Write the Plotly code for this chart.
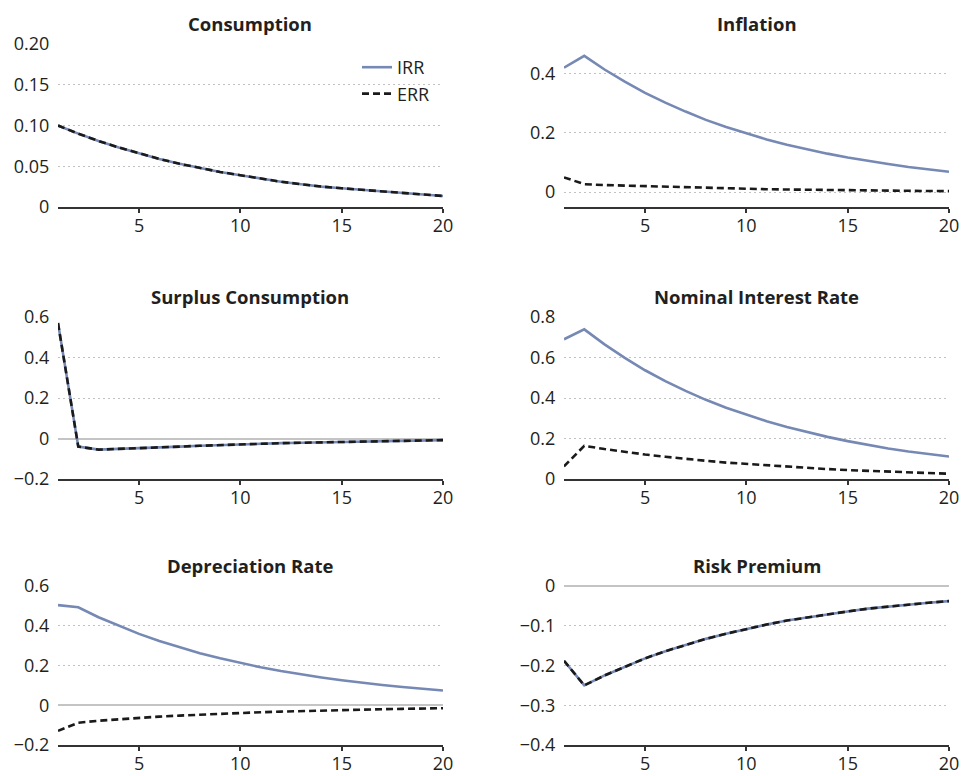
import plotly.graph_objects as go

periods = list(range(1, 21))

consumption_irr = [0.100, 0.090, 0.081, 0.073, 0.066, 0.059, 0.053, 0.048, 0.043, 0.039,
                   0.035, 0.031, 0.028, 0.025, 0.023, 0.021, 0.019, 0.017, 0.015, 0.0135]
consumption_err = [0.100, 0.090, 0.081, 0.073, 0.066, 0.059, 0.053, 0.048, 0.043, 0.039,
                   0.035, 0.031, 0.028, 0.025, 0.023, 0.021, 0.019, 0.017, 0.015, 0.0135]

inflation_irr = [0.420, 0.460, 0.414, 0.373, 0.335, 0.302, 0.272, 0.244, 0.220, 0.198,
                 0.178, 0.160, 0.144, 0.130, 0.117, 0.105, 0.095, 0.085, 0.077, 0.069]
inflation_err = [0.050, 0.027, 0.024, 0.022, 0.020, 0.018, 0.016, 0.014, 0.013, 0.011,
                 0.010, 0.009, 0.008, 0.007, 0.0065, 0.006, 0.005, 0.0045, 0.004, 0.0035]

surplus_irr = [0.570, -0.040, -0.055, -0.052, -0.048, -0.044, -0.040, -0.036, -0.032, -0.029,
               -0.026, -0.023, -0.021, -0.019, -0.017, -0.015, -0.013, -0.011, -0.010, -0.008]
surplus_err = [0.570, -0.040, -0.055, -0.052, -0.048, -0.044, -0.040, -0.036, -0.032, -0.029,
               -0.026, -0.023, -0.021, -0.019, -0.017, -0.015, -0.013, -0.011, -0.010, -0.008]

nominal_irr = [0.690, 0.739, 0.665, 0.598, 0.537, 0.483, 0.435, 0.391, 0.352, 0.317,
               0.285, 0.257, 0.231, 0.208, 0.187, 0.168, 0.151, 0.136, 0.123, 0.111]
nominal_err = [0.062, 0.164, 0.148, 0.134, 0.121, 0.110, 0.099, 0.090, 0.081, 0.074,
               0.067, 0.060, 0.054, 0.049, 0.044, 0.040, 0.036, 0.033, 0.029, 0.026]

depreciation_irr = [0.504, 0.493, 0.443, 0.399, 0.359, 0.323, 0.291, 0.262, 0.236, 0.213,
                    0.191, 0.172, 0.155, 0.140, 0.126, 0.113, 0.102, 0.092, 0.082, 0.074]
depreciation_err = [-0.129, -0.088, -0.078, -0.070, -0.063, -0.057, -0.052, -0.047, -0.043, -0.039,
                    -0.035, -0.032, -0.029, -0.026, -0.024, -0.022, -0.020, -0.018, -0.016, -0.015]

risk_irr = [-0.188, -0.250, -0.225, -0.203, -0.182, -0.164, -0.148, -0.133, -0.120, -0.108,
            -0.097, -0.087, -0.079, -0.071, -0.064, -0.057, -0.052, -0.046, -0.042, -0.038]
risk_err = [-0.188, -0.250, -0.225, -0.203, -0.182, -0.164, -0.148, -0.133, -0.120, -0.108,
            -0.097, -0.087, -0.079, -0.071, -0.064, -0.057, -0.052, -0.046, -0.042, -0.038]

titles = ["Consumption", "Inflation", "Surplus Consumption",
          "Nominal Interest Rate", "Depreciation Rate", "Risk Premium"]
irr_series = [consumption_irr, inflation_irr, surplus_irr, nominal_irr, depreciation_irr, risk_irr]
err_series = [consumption_err, inflation_err, surplus_err, nominal_err, depreciation_err, risk_err]

y_ranges = [[0, 0.2], [-0.05, 0.5], [-0.2, 0.6], [0, 0.8], [-0.2, 0.6], [-0.4, 0]]
y_tickvals = [[0, 0.05, 0.10, 0.15, 0.20], [0, 0.2, 0.4], [-0.2, 0, 0.2, 0.4, 0.6],
              [0, 0.2, 0.4, 0.6, 0.8], [-0.2, 0, 0.2, 0.4, 0.6], [-0.4, -0.3, -0.2, -0.1, 0]]
y_ticktext = [["0", "0.05", "0.10", "0.15", "0.20"], ["0", "0.2", "0.4"],
              ["\u22120.2", "0", "0.2", "0.4", "0.6"], ["0", "0.2", "0.4", "0.6", "0.8"],
              ["\u22120.2", "0", "0.2", "0.4", "0.6"],
              ["\u22120.4", "\u22120.3", "\u22120.2", "\u22120.1", "0"]]
show_zero = [False, False, True, False, True, True]
x_tickvals = [5, 10, 15, 20]

IRR_COLOR = "#7689b4"
ERR_COLOR = "#1a1a1a"
TEXT_COLOR = "#231f20"
FONT = "Open Sans"

W, H = 964, 776
col_px = [(58, 443), (564, 949)]
row_px = [(44, 207), (317, 479), (586, 745)]


def fx(px):
    return px / W


def fy(px):
    return 1 - px / H


fig = go.Figure()
for i in range(6):
    r, c = divmod(i, 2)
    n = i + 1
    xa = "x" if n == 1 else f"x{n}"
    ya = "y" if n == 1 else f"y{n}"
    fig.add_trace(go.Scatter(x=periods, y=irr_series[i], mode="lines", name="IRR",
                             line=dict(color=IRR_COLOR, width=2.6),
                             showlegend=(i == 0), xaxis=xa, yaxis=ya))
    fig.add_trace(go.Scatter(x=periods, y=err_series[i], mode="lines", name="ERR",
                             line=dict(color=ERR_COLOR, width=2.6, dash="7px,4px"),
                             showlegend=(i == 0), xaxis=xa, yaxis=ya))
    x0, x1 = col_px[c]
    y0, y1 = row_px[r]
    xdom = [fx(x0), fx(x1)]
    ydom = [fy(y1), fy(y0)]
    xkey = "xaxis" if n == 1 else f"xaxis{n}"
    ykey = "yaxis" if n == 1 else f"yaxis{n}"
    fig.layout[xkey] = dict(
        domain=xdom, anchor=ya, range=[1, 20], tickvals=x_tickvals,
        showgrid=False, zeroline=False, showline=True, linecolor="#333333", linewidth=1.5,
        ticks="outside", ticklen=4, tickwidth=1.5, tickcolor="#333333",
        ticklabelstandoff=-2,
        tickfont=dict(family=FONT, size=18, color=TEXT_COLOR), fixedrange=True,
        automargin=False)
    fig.layout[ykey] = dict(
        domain=ydom, anchor=xa, range=y_ranges[i], tickvals=y_tickvals[i],
        ticktext=y_ticktext[i], showgrid=True, gridcolor="#c2c2c2", gridwidth=1,
        griddash="2px,3px", zeroline=show_zero[i], zerolinecolor="#c4c4c4", zerolinewidth=1.5,
        showline=False, ticks="outside", ticklen=4, tickcolor="rgba(0,0,0,0)",
        tickfont=dict(family=FONT, size=18, color=TEXT_COLOR), fixedrange=True,
        automargin=False)
    fig.add_annotation(text=f"<b>{titles[i]}</b>", x=(xdom[0] + xdom[1]) / 2, y=ydom[1],
                       xref="paper", yref="paper", xanchor="center", yanchor="bottom",
                       yshift=6, showarrow=False,
                       font=dict(family=FONT, size=18.5, color=TEXT_COLOR))

fig.update_layout(
    width=W, height=H, margin=dict(l=0, r=0, t=0, b=0, autoexpand=False),
    paper_bgcolor="white", plot_bgcolor="white",
    legend=dict(x=fx(357), y=fy(49), xanchor="left", yanchor="top",
                bgcolor="rgba(0,0,0,0)", font=dict(family=FONT, size=18, color=TEXT_COLOR),
                tracegroupgap=0),
)

fig.write_html(
    "out.html",
    config={"displayModeBar": False},
    post_script="document.body.style.margin='0px';"
                "document.documentElement.style.overflow='hidden';",
)
